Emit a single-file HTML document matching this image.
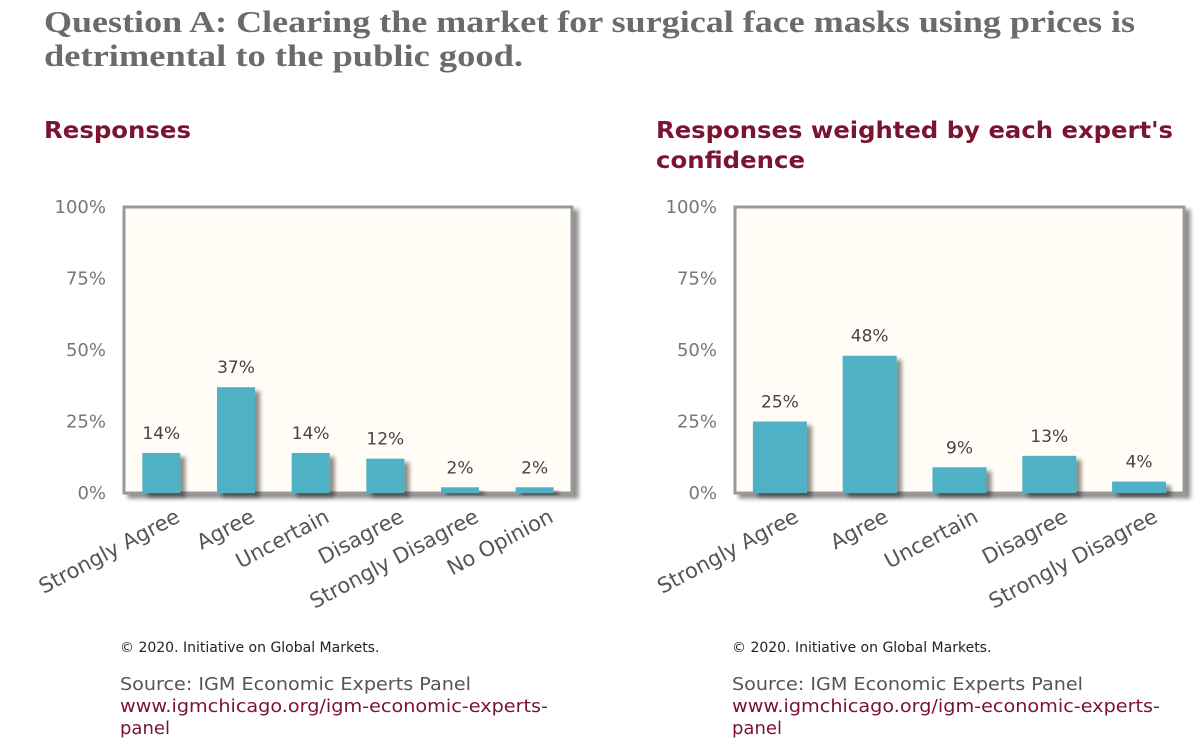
<!DOCTYPE html>
<html><head><meta charset="utf-8"><style>
body{margin:0;background:#fff;width:1200px;height:749px;overflow:hidden}
svg{display:block}
</style></head><body>
<svg id="s" width="1200" height="749" xmlns="http://www.w3.org/2000/svg">
<defs>
<filter id="sh" x="-20%" y="-20%" width="160%" height="160%"><feGaussianBlur in="SourceAlpha" stdDeviation="2"/><feOffset dx="5" dy="4"/><feComponentTransfer><feFuncA type="linear" slope="0.45"/></feComponentTransfer><feMerge><feMergeNode/><feMergeNode in="SourceGraphic"/></feMerge></filter>
</defs>
<text x="44" y="32" textLength="1091" lengthAdjust="spacingAndGlyphs" font-family="Liberation Serif, serif" font-weight="bold" font-size="31" fill="#6b6b6b">Question A: Clearing the market for surgical face masks using prices is</text>
<text x="44" y="66" textLength="479" lengthAdjust="spacingAndGlyphs" font-family="Liberation Serif, serif" font-weight="bold" font-size="31" fill="#6b6b6b">detrimental to the public good.</text>
<text x="44" y="138" textLength="147" lengthAdjust="spacingAndGlyphs" font-family="DejaVu Sans, sans-serif" font-weight="bold" font-size="23" fill="#7a1430">Responses</text>
<text x="656" y="138" textLength="517" lengthAdjust="spacingAndGlyphs" font-family="DejaVu Sans, sans-serif" font-weight="bold" font-size="23" fill="#7a1430">Responses weighted by each expert's</text>
<text x="656" y="168" textLength="149" lengthAdjust="spacingAndGlyphs" font-family="DejaVu Sans, sans-serif" font-weight="bold" font-size="23" fill="#7a1430">confidence</text>
<g id="c1"></g>
<g id="c2"></g>
<g font-family="DejaVu Sans, sans-serif">
<text x="120" y="652" font-size="14" fill="#222">© 2020. Initiative on Global Markets.</text>
<text x="120" y="690" textLength="351" lengthAdjust="spacingAndGlyphs" font-size="18" fill="#555">Source: IGM Economic Experts Panel</text>
<text x="120" y="712" textLength="428" lengthAdjust="spacingAndGlyphs" font-size="18" fill="#7a1430">www.igmchicago.org/igm-economic-experts-</text>
<text x="120" y="734" font-size="18" fill="#7a1430">panel</text>
<text x="732" y="652" font-size="14" fill="#222">© 2020. Initiative on Global Markets.</text>
<text x="732" y="690" textLength="351" lengthAdjust="spacingAndGlyphs" font-size="18" fill="#555">Source: IGM Economic Experts Panel</text>
<text x="732" y="712" textLength="428" lengthAdjust="spacingAndGlyphs" font-size="18" fill="#7a1430">www.igmchicago.org/igm-economic-experts-</text>
<text x="732" y="734" font-size="18" fill="#7a1430">panel</text>
</g>
</svg>
<script>
const cats1 = ["Strongly Agree","Agree","Uncertain","Disagree","Strongly Disagree","No Opinion"];
const vals1 = [14,37,14,12,2,2];
const cats2 = ["Strongly Agree","Agree","Uncertain","Disagree","Strongly Disagree"];
const vals2 = [25,48,9,13,4];
const ticks = [0,25,50,75,100];
const NS="http://www.w3.org/2000/svg";
function mk(p,t,a){const e=document.createElementNS(NS,t);for(const k in a)e.setAttribute(k,a[k]);p.appendChild(e);return e;}
function draw(g,cats,vals,x0,x1,bw,prefix){
  const top=207,bot=493;
  const y=v=>bot-(v/100)*(bot-top);
  const slot=(x1-x0)/cats.length;
  const xc=i=>x0+slot*(i+0.5);
  const fr=mk(g,'rect',{x:x0,y:top,width:x1-x0,height:bot-top,fill:'#fffdf6',stroke:'#999',"stroke-width":3,filter:'url(#sh)'});
  
  
  ticks.forEach(t=>{
    const e=mk(g,'text',{x:x0-18,y:y(t)+6,"text-anchor":"end","font-family":"DejaVu Sans, sans-serif","font-size":18,fill:'#777'});
    e.textContent=t+'%';
    
    
  });
  vals.forEach((v,i)=>{
    const b=mk(g,'rect',{x:xc(i)-bw/2,y:y(v),width:bw,height:bot-y(v),fill:'#4fb1c6',filter:'url(#sh)'});
    
    
    const l=mk(g,'text',{x:xc(i),y:y(v)-14,"text-anchor":"middle","font-family":"DejaVu Sans, sans-serif","font-size":17,fill:'#444'});
    l.textContent=v+'%';
    
    
    const c=mk(g,'text',{transform:`translate(${xc(i)+20},${bot+28}) rotate(-28)`,"text-anchor":"end","font-family":"DejaVu Sans, sans-serif","font-size":21,fill:'#555'});
    c.textContent=cats[i];
    
    
  });
}
draw(document.getElementById('c1'),cats1,vals1,124,572,38,'left');
draw(document.getElementById('c2'),cats2,vals2,735,1184,54,'right');
</script>
</body></html>
